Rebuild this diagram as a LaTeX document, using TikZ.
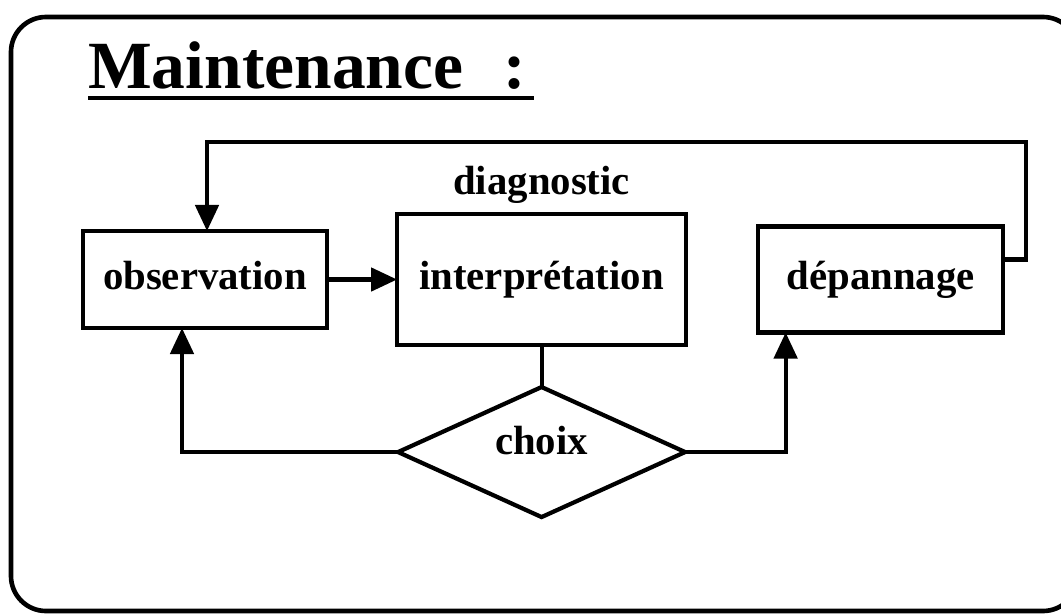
\documentclass[tikz,border=0pt]{standalone}
\usepackage{fontspec}
\setmainfont{Liberation Serif}
\usetikzlibrary{arrows.meta,shapes,positioning}

\begin{document}
\begin{tikzpicture}[x=0.025cm,y=-0.025cm,>={Triangle[length=0.65cm,width=0.58cm]}]
      \tikzstyle{rectblock}=[rectangle, draw, line width=3pt, inner sep=0pt, outer sep=0pt, text height=0.7cm, text depth=0.22cm, font=\fontsize{29}{33}\selectfont\bfseries]
      \tikzstyle{decision}=[diamond, draw, line width=3pt, inner sep=0pt, outer sep=0pt, aspect=2.2, minimum width=7.175cm, minimum height=3.25cm, text height=0.7cm, text depth=0.6cm, font=\fontsize{29}{33}\selectfont\bfseries]
      \tikzstyle{link}=[line width=2.9pt]
      \useasboundingbox (0,0) rectangle (1061,614);
      \clip (0,0) rectangle (1061,614);
      \draw[line width=3.3pt, rounded corners=0.875cm] (11,17) rectangle (1078,611);
      \node[anchor=base west, inner sep=0pt, font=\fontsize{48}{52}\selectfont\bfseries] (title) at (88,88) {Maintenance\hspace{0.6em}:};
      \draw[line width=3.5pt] ([yshift=-0.25cm]title.base west) -- ([xshift=0.2cm,yshift=-0.25cm]title.base east);
      \node[rectblock, minimum width=6.1cm, minimum height=2.425cm] (obs) at (205,279.5) {observation};
      \node[rectblock, right = 1.75cm of obs, minimum width=7.225cm, minimum height=3.275cm] (interp) {interprétation};
      \node[rectblock, right = 1.8cm of interp, minimum width=6.125cm, minimum height=2.65cm] (dep) {dépannage};
      \node[above = 0.25cm of interp, inner sep=0pt, font=\fontsize{29}{33}\selectfont\bfseries] (diag) {diagnostic};
      \node[decision, below = 1.05cm of interp] (choix) {choix};
      \coordinate (retour) at (1026,142);
      \draw[->, link] (obs) -- (interp);
      \draw[link] (interp) -- (choix);
      \draw[->, link] (choix.west) -| ([xshift=-0.575cm]obs.south);
      \draw[->, link] (choix.east) -| ([xshift=-2.375cm]dep.south);
      \draw[->, link] ([yshift=0.5cm]dep.east) -| (retour) -| ([xshift=0.05cm]obs.north);
\end{tikzpicture}
\end{document}
